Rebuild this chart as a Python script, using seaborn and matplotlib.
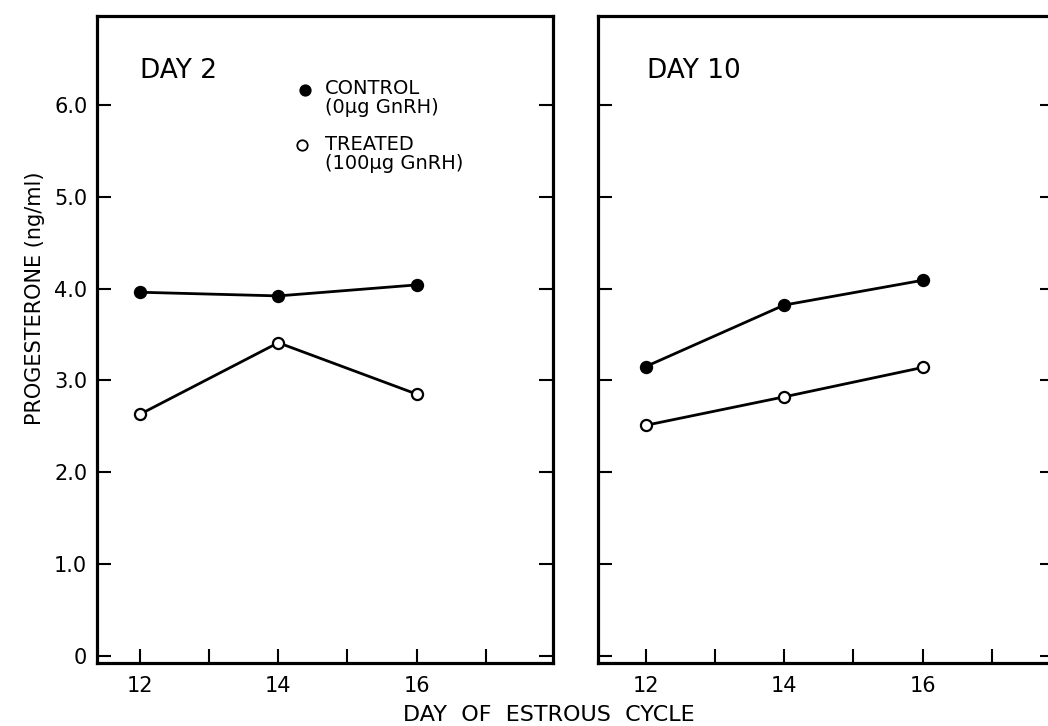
import matplotlib
matplotlib.use("Agg")
import matplotlib.pyplot as plt
import seaborn as sns
import pandas as pd

# values
days = [12, 14, 16]
day2_control = [3.96, 3.92, 4.04]
day2_treated = [2.63, 3.41, 2.85]
day10_control = [3.15, 3.82, 4.09]
day10_treated = [2.51, 2.82, 3.14]

panels = ["DAY 2", "DAY 10"]
groups = ["CONTROL", "TREATED"]
group_notes = ["(0\u00b5g GnRH)", "(100\u00b5g GnRH)"]

rows = []
for panel, ctrl, trt in [("DAY 2", day2_control, day2_treated),
                         ("DAY 10", day10_control, day10_treated)]:
    for d, c, t in zip(days, ctrl, trt):
        rows.append({"panel": panel, "group": "CONTROL", "day": d, "value": c})
        rows.append({"panel": panel, "group": "TREATED", "day": d, "value": t})
df = pd.DataFrame(rows)

sns.set_style("white")
plt.rcParams["font.family"] = ["DejaVu Sans"]
plt.rcParams["text.color"] = "black"
plt.rcParams["axes.labelcolor"] = "black"
plt.rcParams["xtick.color"] = "black"
plt.rcParams["ytick.color"] = "black"

fig = plt.figure(figsize=(10.48, 7.26), dpi=100)
ax_w = 456 / 1048
ax_h = 647 / 726
ax_b = (726 - 663) / 726
ax1 = fig.add_axes([97 / 1048, ax_b, ax_w, ax_h])
ax2 = fig.add_axes([598 / 1048, ax_b, ax_w, ax_h])

face = {"CONTROL": "black", "TREATED": "white"}

for ax, panel, xlim in [(ax1, "DAY 2", (11.38, 17.97)), (ax2, "DAY 10", (11.31, 17.9))]:
    sub = df[df["panel"] == panel]
    for g in groups:
        sns.lineplot(data=sub[sub["group"] == g], x="day", y="value", ax=ax,
                     color="black", linewidth=2.0, marker="o", markersize=8,
                     markerfacecolor=face[g], markeredgecolor="black",
                     markeredgewidth=1.6, legend=False)
    ax.set_xlim(*xlim)
    ax.set_ylim(-0.08, 6.97)
    ax.set_xticks(range(12, 18))
    ax.set_xticklabels(["12", "", "14", "", "16", ""])
    ax.set_yticks([0, 1, 2, 3, 4, 5, 6])
    ax.tick_params(axis="x", direction="in", length=10, width=1.5, bottom=True,
                   top=False, labelsize=15, pad=9)
    ax.tick_params(axis="y", direction="in", length=10, width=1.5, left=True,
                   right=True, labelsize=15, pad=7)
    for s in ax.spines.values():
        s.set_linewidth(2.3)
        s.set_color("black")
    ax.set_xlabel("")
    ax.set_ylabel("")
    ax.text(0.094 if panel == "DAY 2" else 0.107, 0.915, panel,
            transform=ax.transAxes, fontsize=19, va="center", ha="left")

ax1.set_yticklabels(["0", "1.0", "2.0", "3.0", "4.0", "5.0", "6.0"])
ax2.set_yticklabels([])

# legend in the left panel
for g, note, mx, my in [("CONTROL", group_notes[0], 0.456, 0.886),
                        ("TREATED", group_notes[1], 0.450, 0.800)]:
    ax1.plot([mx], [my], transform=ax1.transAxes, marker="o", markersize=7.5,
             markerfacecolor=face[g], markeredgecolor="black",
             markeredgewidth=1.3, linestyle="none")
    ax1.text(0.50, my + 0.016, g + "\n" + note, transform=ax1.transAxes,
             fontsize=14, va="top", ha="left", linespacing=1.0)

ax1.set_ylabel("PROGESTERONE (ng/ml)", fontsize=15)
ax1.yaxis.set_label_coords(-0.115, 0.564)

fig.text(549 / 1048, 1 - 715 / 726, "DAY  OF  ESTROUS  CYCLE", fontsize=16,
         ha="center", va="center")

fig.savefig("out.png", dpi=100)
